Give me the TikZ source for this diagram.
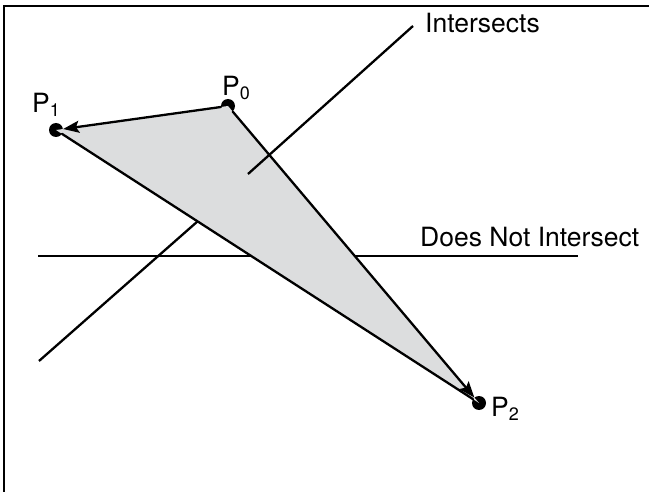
\documentclass[tikz,border=0pt]{standalone}
\usepackage{fontspec}
\setmainfont{TeX Gyre Heros}
\usetikzlibrary{arrows.meta}
\definecolor{trigray}{RGB}{220,221,222}
\newcommand{\lbl}[2]{#1\raisebox{-4pt}{\fontsize{18}{20}\selectfont #2}}
\tikzset{
  dot/.style={circle,fill=black,inner sep=0pt,minimum size=14pt},
  edge/.style={line width=2.3pt,line cap=round},
  arr/.style={edge,-{Stealth[length=16pt,width=12pt,inset=3pt]}},
  lbltext/.style={inner sep=0pt,font=\fontsize{26.5}{30}\selectfont},
  frame/.style={line width=1.8pt}
}
\begin{document}
\begin{tikzpicture}[x=1pt,y=-1pt]
\useasboundingbox (0,0) rectangle (649,492);
\fill[white] (0,0) rectangle (649,492);
% frame
\coordinate (fa) at (4,495);
\coordinate (fb) at (4,6);
\coordinate (fc) at (652,6);
\draw[frame] (fa) -- (fb) -- (fc);
% points
\node[dot] (p0) at (228,106) {};
\node[dot] (p1) at (56,130) {};
\node[dot] (p2) at (479,403) {};
% horizontal line (under triangle)
\coordinate (h1) at (38,256);
\coordinate (h2) at (578,256);
\draw[edge,line cap=butt,line width=2.6pt] (h1) -- (h2);
% triangle fill
\fill[trigray] (p0.center) -- (p1.center) -- (p2.center) -- cycle;
% intersects line pieces
\coordinate (i1) at (39,361);
\coordinate (i2) at (198,221);
\coordinate (i3) at (248,174);
\coordinate (i4) at (413,26);
\draw[edge,line cap=butt] (i1) -- (i2);
\draw[edge,line cap=butt] (i3) -- (i4);
% triangle edges
\draw[edge] (p1) -- (p2);
\draw[arr] (p0) -- (p1);
\draw[arr] (p0) -- (p2);
% labels
\node[lbltext,anchor=base west] (l0) at (222,96) {\lbl{P}{0}};
\node[lbltext,anchor=base west] (l1) at (32,113) {\lbl{P}{1}};
\node[lbltext,anchor=base west] (l2) at (491,417) {\lbl{P}{2}};
\node[lbltext,anchor=base west] (lt1) at (425,33) {Intersects};
\node[lbltext,anchor=base west] (lt2) at (420,247) {Does Not Intersect};
\end{tikzpicture}
\end{document}
